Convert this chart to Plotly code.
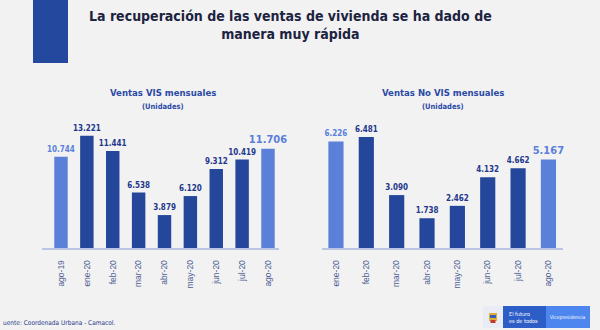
import plotly.graph_objects as go

# ---- data ----
vis_months = ["ago-19", "ene-20", "feb-20", "mar-20", "abr-20", "may-20", "jun-20", "jul-20", "ago-20"]
vis_sales = [10744, 13221, 11441, 6538, 3879, 6120, 9312, 10419, 11706]

novis_months = ["ene-20", "feb-20", "mar-20", "abr-20", "may-20", "jun-20", "jul-20", "ago-20"]
novis_sales = [6226, 6481, 3090, 1738, 2462, 4132, 4662, 5167]

title_text = "La recuperación de las ventas de vivienda se ha dado de<br>manera muy rápida"
left_title = "Ventas VIS mensuales"
right_title = "Ventas No VIS mensuales"
unit_text = "(Unidades)"
source_text = "uente: Coordenada Urbana - Camacol."

# ---- style ----
W, H = 600, 330
BG = "#f2f2f2"
LIGHT = "#5a80d8"
DARK = "#24479c"
LIGHT_TXT = "#5a80dc"
DARK_TXT = "#23378c"
NARROW = "DejaVu Sans Condensed, Liberation Sans Narrow, sans-serif"


def px(x):
    return x / W


def py(y):
    return 1 - y / H


def bar_style(n):
    colors = [LIGHT if i in (0, n - 1) else DARK for i in range(n)]
    tcolors = [LIGHT_TXT if i in (0, n - 1) else DARK_TXT for i in range(n)]
    tsizes = [11 if i == n - 1 else 8 for i in range(n)]
    return colors, tcolors, tsizes


fig = go.Figure()

c, tc, ts = bar_style(len(vis_sales))
fig.add_trace(go.Bar(
    x=list(range(len(vis_months))), y=vis_sales, xaxis="x", yaxis="y",
    width=0.52, marker=dict(color=c, line=dict(width=0)),
    texttemplate="%{y:,}", textposition="outside", cliponaxis=False, constraintext="none",
    textfont=dict(color=tc, size=ts, family=NARROW, weight="bold"),
    hoverinfo="skip", showlegend=False,
))

c, tc, ts = bar_style(len(novis_sales))
fig.add_trace(go.Bar(
    x=list(range(len(novis_months))), y=novis_sales, xaxis="x2", yaxis="y2",
    width=0.50, marker=dict(color=c, line=dict(width=0)),
    texttemplate="%{y:,}", textposition="outside", cliponaxis=False, constraintext="none",
    textfont=dict(color=tc, size=ts, family=NARROW, weight="bold"),
    hoverinfo="skip", showlegend=False,
))

axis_common = dict(
    showgrid=False, zeroline=False, showline=True, linecolor="#b9c5e2", linewidth=1.5,
    tickangle=-90, ticks="outside", ticklen=7, tickcolor="rgba(0,0,0,0)",
    tickfont=dict(family="Liberation Sans, Arial, sans-serif", size=8.5, color="#4f5f96"),
    fixedrange=True,
)
yaxis_common = dict(visible=False, showgrid=False, zeroline=False, fixedrange=True)

layout = dict(
    width=W, height=H, margin=dict(l=0, r=0, t=0, b=0),
    paper_bgcolor=BG, plot_bgcolor=BG, separators=",.",
    xaxis=dict(axis_common, domain=[px(42), px(279)], range=[-0.734, 8.425],
               tickmode="array", tickvals=list(range(len(vis_months))), ticktext=vis_months,
               anchor="y"),
    yaxis=dict(yaxis_common, domain=[py(248), py(128)], range=[0, 120 * 117.8], anchor="x"),
    xaxis2=dict(axis_common, domain=[px(322), px(563)], range=[-0.46, 7.48],
                tickmode="array", tickvals=list(range(len(novis_months))), ticktext=novis_months,
                anchor="y2"),
    yaxis2=dict(yaxis_common, domain=[py(248), py(128)], range=[0, 120 * 58.4], anchor="x2"),
    bargap=0.4,
)
fig.update_layout(**layout)

shapes = [
    # blue block top-left
    dict(type="rect", xref="paper", yref="paper", x0=px(33), x1=px(68), y0=py(63), y1=py(0),
         fillcolor="#24489e", line=dict(width=0)),
    # logo background
    dict(type="rect", xref="paper", yref="paper", x0=px(483), x1=px(590), y0=py(328), y1=py(306),
         fillcolor="#e9ecf4", line=dict(width=0)),
    dict(type="rect", xref="paper", yref="paper", x0=px(503), x1=px(546), y0=py(328), y1=py(306),
         fillcolor="#2d5ec8", line=dict(width=0)),
    dict(type="rect", xref="paper", yref="paper", x0=px(546), x1=px(590), y0=py(328), y1=py(306),
         fillcolor="#4d86ee", line=dict(width=0)),
    # shield
    dict(type="rect", xref="paper", yref="paper", x0=px(489), x1=px(497), y0=py(321), y1=py(313),
         fillcolor="#d9b13a", line=dict(width=0)),
    dict(type="rect", xref="paper", yref="paper", x0=px(490), x1=px(496), y0=py(318), y1=py(315),
         fillcolor="#3a5fb0", line=dict(width=0)),
    dict(type="rect", xref="paper", yref="paper", x0=px(490.5), x1=px(495.5), y0=py(323), y1=py(320),
         fillcolor="#c0392b", line=dict(width=0)),
]
fig.update_layout(shapes=shapes)

ann = [
    dict(text=title_text, x=px(290), y=py(25), xref="paper", yref="paper", showarrow=False,
         xanchor="center", yanchor="middle", align="center",
         font=dict(family=NARROW, size=14, color="#1c2340", weight="bold")),
    dict(text=left_title, x=px(163), y=py(93), xref="paper", yref="paper", showarrow=False,
         xanchor="center", yanchor="middle",
         font=dict(family=NARROW, size=9.5, color="#2b4aa6", weight="bold")),
    dict(text=unit_text, x=px(163), y=py(106), xref="paper", yref="paper", showarrow=False,
         xanchor="center", yanchor="middle",
         font=dict(family=NARROW, size=7.5, color="#2b4aa6", weight="bold")),
    dict(text=right_title, x=px(443), y=py(93), xref="paper", yref="paper", showarrow=False,
         xanchor="center", yanchor="middle",
         font=dict(family=NARROW, size=9.5, color="#2b4aa6", weight="bold")),
    dict(text=unit_text, x=px(443), y=py(106), xref="paper", yref="paper", showarrow=False,
         xanchor="center", yanchor="middle",
         font=dict(family=NARROW, size=7.5, color="#2b4aa6", weight="bold")),
    dict(text=source_text, x=px(1), y=py(323), xref="paper", yref="paper", showarrow=False,
         xanchor="left", yanchor="middle",
         font=dict(family=NARROW, size=6.5, color="#2a3a8c")),
    dict(text="El futuro<br>es de todos", x=px(507), y=py(317), xref="paper", yref="paper",
         showarrow=False, xanchor="left", yanchor="middle", align="left",
         font=dict(family=NARROW, size=5.5, color="#ffffff")),
    dict(text="Vicepresidencia", x=px(568), y=py(317), xref="paper", yref="paper",
         showarrow=False, xanchor="center", yanchor="middle",
         font=dict(family=NARROW, size=5, color="#ffffff")),
]
fig.update_layout(annotations=ann)

fig.write_html("out.html")
